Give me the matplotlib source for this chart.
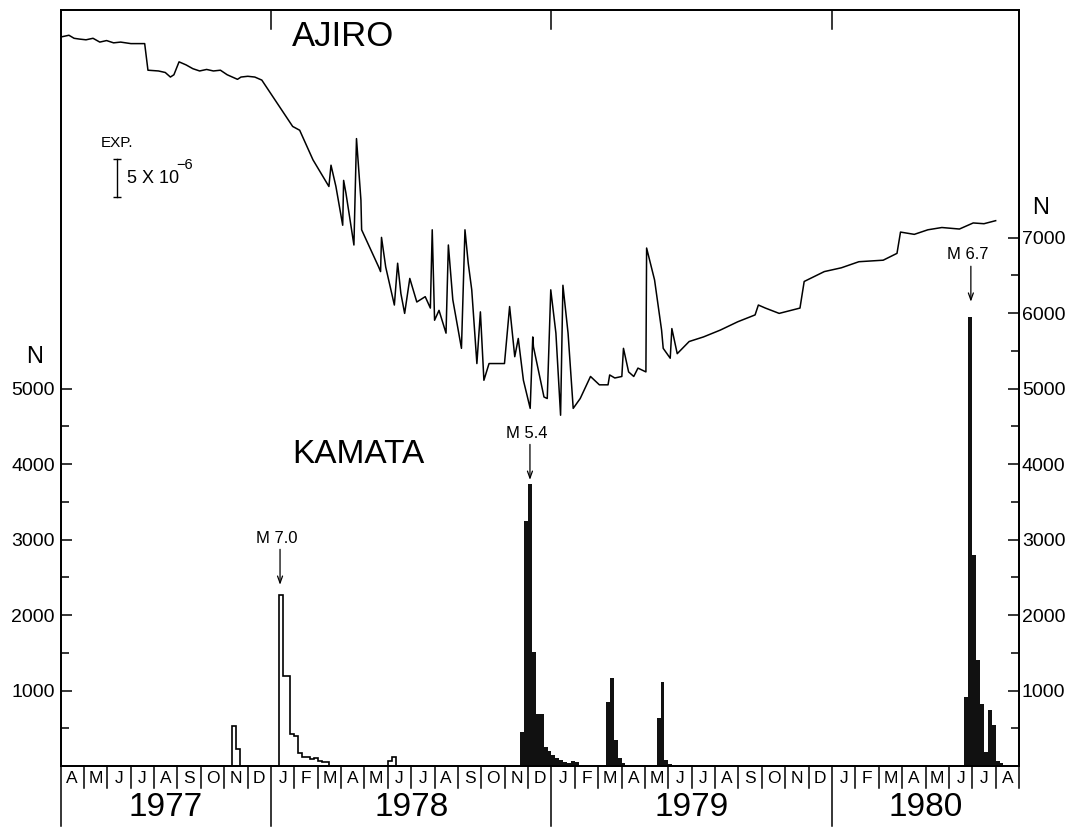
import numpy as np
import matplotlib.pyplot as plt
from matplotlib.transforms import blended_transform_factory

plt.rcParams['font.family'] = ['Liberation Sans', 'DejaVu Sans']

# time axis: months counted from 1 April 1977
month_letters = ['A', 'M', 'J', 'J', 'A', 'S', 'O', 'N', 'D',
                 'J', 'F', 'M', 'A', 'M', 'J', 'J', 'A', 'S', 'O', 'N', 'D',
                 'J', 'F', 'M', 'A', 'M', 'J', 'J', 'A', 'S', 'O', 'N', 'D',
                 'J', 'F', 'M', 'A', 'M', 'J', 'J', 'A']
years = ['1977', '1978', '1979', '1980']
year_start = [0, 9, 21, 33]

# KAMATA: earthquake counts per 5-day interval (start month, counts)
kamata_open = [
    (7 + 2/6, [530, 220]),
    (9 + 2/6, [2265, 1190, 1190, 420, 400, 175, 115, 115, 90, 100, 60, 55, 50]),
    (14.0, [70, 120]),
]
kamata_filled = [
    (19 + 4/6, [450, 3250, 3730, 1515, 690, 690, 250, 200, 150, 110, 75, 55, 45, 65, 50]),
    (23 + 2/6, [850, 1160, 345, 105, 40]),
    (25 + 3/6, [630, 1110, 80, 30]),
    (38 + 4/6, [920, 5950, 2795, 1405, 820, 180, 740, 545, 60, 40]),
]

# AJIRO: strain (1e-6, relative to April 1977), expansion up
ajiro_month = [0.06, 0.36, 0.58, 0.80, 1.09, 1.39, 1.68, 1.97, 2.27, 2.57, 3.01, 3.60,
               3.74, 4.19, 4.48, 4.70, 4.85, 5.07, 5.37, 5.66, 5.95, 6.25, 6.54, 6.84,
               7.13, 7.35, 7.57, 7.72, 8.01, 8.31, 8.61,
               9.93, 10.23, 10.80, 11.48, 11.57, 11.78, 12.07, 12.11, 12.21, 12.55, 12.66,
               12.85, 12.88, 13.61, 13.69, 13.73, 13.91, 14.28, 14.42, 14.56, 14.72, 14.94,
               15.24, 15.60, 15.82, 15.90, 16.00, 16.19, 16.49, 16.59, 16.78, 17.15, 17.30,
               17.44, 17.59, 17.81, 17.96, 18.11, 18.33, 18.99, 19.21, 19.43, 19.58, 19.80,
               20.09, 20.20, 20.23, 20.68, 20.82, 20.97, 21.19, 21.39, 21.49, 21.71, 21.93,
               22.23, 22.67, 23.05, 23.42, 23.49, 23.71, 24.01, 24.08, 24.30, 24.52, 24.70,
               25.04, 25.07, 25.41, 25.71, 25.78, 26.08, 26.15, 26.38, 26.89, 27.50, 28.22,
               28.97, 29.71, 29.85, 30.15, 30.74, 31.63, 31.81, 32.67, 33.40, 34.15, 35.19,
               35.78, 35.93, 36.52, 37.10, 37.70, 38.45, 39.04, 39.50, 40.00]
ajiro_strain = [0.0, 0.2, -0.2, -0.3, -0.4, -0.2, -0.7, -0.5, -0.8, -0.7, -0.9, -0.9,
                -4.4, -4.5, -4.7, -5.3, -5.0, -3.3, -3.7, -4.2, -4.5, -4.3, -4.5, -4.4,
                -5.0, -5.3, -5.6, -5.3, -5.2, -5.3, -5.7,
                -11.8, -12.3, -16.2, -19.7, -16.9, -19.7, -24.8, -18.9, -20.6, -27.4, -13.4,
                -21.5, -25.4, -30.3, -30.9, -26.4, -30.3, -35.3, -29.8, -33.8, -36.4, -31.8,
                -34.9, -34.2, -35.7, -25.4, -37.3, -36.0, -39.0, -27.4, -34.6, -41.0, -25.4,
                -29.8, -33.3, -43.0, -36.2, -45.2, -43.0, -43.0, -35.5, -42.1, -39.7, -45.2,
                -48.9, -39.5, -40.8, -47.4, -47.6, -33.3, -39.0, -49.8, -32.7, -39.0, -48.9,
                -47.6, -44.7, -45.8, -45.8, -44.5, -44.9, -44.7, -41.0, -44.1, -44.7, -43.6,
                -44.1, -27.8, -32.0, -38.6, -41.0, -42.3, -38.4, -41.7, -40.1, -39.5, -38.6,
                -37.5, -36.6, -35.3, -35.7, -36.4, -35.7, -32.2, -30.9, -30.4, -29.6, -29.4,
                -28.5, -25.7, -26.0, -25.4, -25.1, -25.3, -24.5, -24.6, -24.2]

# main shocks: label, month of arrow, count at arrow tip
shocks = [('M 7.0', 9.39, 2400), ('M 5.4', 20.08, 3790), ('M 6.7', 38.94, 6150)]

fig = plt.figure(figsize=(10.73, 8.31), dpi=100)
ax = fig.add_axes([0.0564, 0.0782, 0.8933, 0.9102])
axr = ax.twinx()
axa = ax.twinx()

n_months = len(month_letters)
ax.set_xlim(0, n_months)
ax.set_ylim(0, 10019)
axr.set_ylim(0, 10019)
axa.set_ylim(-95.96, 3.57)
axa.axis('off')

for a in (ax, axr):
    for s in a.spines.values():
        s.set_linewidth(1.3)

# histogram
for start, counts in kamata_open:
    edges = start + np.arange(len(counts) + 1) / 6
    ax.stairs(counts, edges, baseline=0, fill=False, color='black', lw=1.2)
for start, counts in kamata_filled:
    edges = start + np.arange(len(counts) + 1) / 6
    ax.stairs(counts, edges, baseline=0, fill=True, color='#111111', lw=0)

# strain curve
axa.plot(ajiro_month, ajiro_strain, color='black', lw=1.1)

# scale bar
axa.plot([2.42, 2.42], [-16.1, -21.1], color='black', lw=1.0, marker='_', ms=6, mew=1.0)
axa.text(2.4, -14.9, 'EXP.', fontsize=11, ha='center', va='bottom')
axa.text(2.85, -18.6, '5 X 10', fontsize=13, ha='left', va='center')
axa.text(4.95, -16.9, '\u22126', fontsize=10.5, ha='left', va='center')

# y ticks
ax.set_yticks([1000, 2000, 3000, 4000, 5000])
ax.set_yticks(np.arange(500, 5000, 1000), minor=True)
axr.set_yticks([1000, 2000, 3000, 4000, 5000, 6000, 7000])
axr.set_yticks(np.arange(500, 7000, 1000), minor=True)
ax.set_xticks([])
ax.tick_params(axis='y', which='major', direction='in', length=8, width=1.1,
               labelsize=14, pad=4)
ax.tick_params(axis='y', which='minor', direction='in', length=5.5, width=1.1)
axr.tick_params(axis='y', which='major', direction='in', length=8, width=1.1,
                labelsize=14, pad=2)
axr.tick_params(axis='y', which='minor', direction='in', length=5.5, width=1.1)

ax.text(-0.027, 0.541, 'N', transform=ax.transAxes, fontsize=17, ha='center', va='center')
axr.text(1.022, 0.738, 'N', transform=axr.transAxes, fontsize=17, ha='center', va='center')

# time axis drawn below the frame
tr = blended_transform_factory(ax.transData, ax.transAxes)
for i in range(n_months + 1):
    bottom = -0.079 if i in year_start else -0.029
    ax.plot([i, i], [0, bottom], transform=tr, color='black', lw=1.1, clip_on=False)
for i, lab in enumerate(month_letters):
    ax.text(i + 0.5, -0.0165, lab, transform=tr, fontsize=12.5, ha='center', va='center')
year_end = year_start[1:] + [n_months]
for lab, s, e in zip(years, year_start, year_end):
    ax.text((s + e) / 2, -0.0555, lab, transform=tr, fontsize=24, ha='center', va='center')
for s in year_start[1:]:
    ax.plot([s, s], [1, 0.975], transform=tr, color='black', lw=1.1)

ax.text(12.08, 9669, 'AJIRO', fontsize=25, ha='center', va='center')
ax.text(12.72, 4130, 'KAMATA', fontsize=24, ha='center', va='center')

for lab, m, tip in shocks:
    ax.annotate('', xy=(m, tip), xytext=(m, tip + 470),
                arrowprops=dict(arrowstyle='->,head_length=0.5,head_width=0.18',
                                color='black', lw=0.9, shrinkA=0, shrinkB=0))
    ax.text(m - 0.15, tip + 520, lab, fontsize=12, ha='center', va='bottom')

fig.savefig('out.png', dpi=100)
